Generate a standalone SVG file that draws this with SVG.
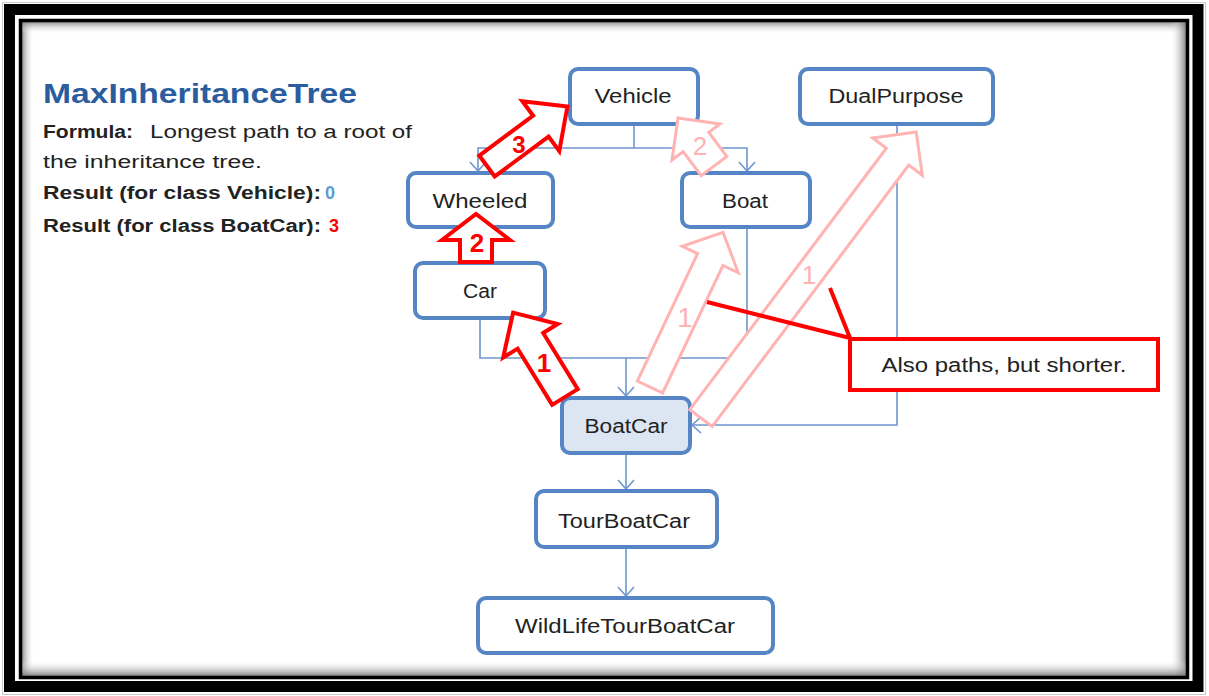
<svg xmlns="http://www.w3.org/2000/svg" width="1209" height="696" viewBox="0 0 1209 696">
<defs>
<style>
.node rect{fill:#fff;stroke:#5585C4;stroke-width:4}
.node text{font-family:"Liberation Sans",Arial,sans-serif;font-size:20px;fill:#222;text-anchor:middle}
.conn path{fill:none;stroke:#6F97CE;stroke-width:1.6}
.ra{fill:#fff;stroke:#FF0000;stroke-width:4;stroke-linejoin:miter}
.pa{fill:#fff;stroke:#FFB3B3;stroke-width:3}
.rn{font-family:"Liberation Sans",Arial,sans-serif;font-weight:bold;fill:#FF0000;text-anchor:middle}
.pn{font-family:"Liberation Sans",Arial,sans-serif;fill:#FFB3B3;text-anchor:middle}
.lt{font-family:"Liberation Sans",Arial,sans-serif;font-size:18px;fill:#222}
.b{font-weight:bold}
</style>
<marker id="v" markerWidth="12" markerHeight="18" refX="10" refY="9" orient="auto" markerUnits="userSpaceOnUse">
<path d="M1,1 L10,9 L1,17" fill="none" stroke="#6F97CE" stroke-width="1.6"/>
</marker>
<linearGradient id="gl" x1="0" y1="0" x2="1" y2="0"><stop offset="0" stop-color="#777" stop-opacity="0.8"/><stop offset="1" stop-color="#fff" stop-opacity="0"/></linearGradient>
<linearGradient id="gt" x1="0" y1="0" x2="0" y2="1"><stop offset="0" stop-color="#777" stop-opacity="0.8"/><stop offset="1" stop-color="#fff" stop-opacity="0"/></linearGradient>
<linearGradient id="gr" x1="1" y1="0" x2="0" y2="0"><stop offset="0" stop-color="#666" stop-opacity="0.9"/><stop offset="1" stop-color="#fff" stop-opacity="0"/></linearGradient>
<linearGradient id="gb" x1="0" y1="1" x2="0" y2="0"><stop offset="0" stop-color="#666" stop-opacity="0.9"/><stop offset="1" stop-color="#fff" stop-opacity="0"/></linearGradient>
</defs>
<rect x="0" y="0" width="1209" height="696" fill="#fff"/>
<g id="frame">
<rect x="2.5" y="2.5" width="1203" height="692" fill="none" stroke="#c8c8c8" stroke-width="1"/>
<rect x="9.5" y="9.5" width="1188.5" height="677" fill="none" stroke="#000" stroke-width="11"/>
<rect x="22" y="22" width="12" height="655" fill="url(#gl)"/>
<rect x="22" y="22" width="1165" height="12" fill="url(#gt)"/>
<rect x="1170" y="22" width="17" height="655" fill="url(#gr)"/>
<rect x="22" y="660" width="1165" height="17" fill="url(#gb)"/>
<rect x="20.5" y="20.5" width="1167" height="657" fill="none" stroke="#000" stroke-width="3.5"/>
</g>
<g id="legend">
<text x="43" y="103" font-family="Liberation Sans,Arial,sans-serif" font-size="28" font-weight="bold" fill="#2B5D9E" textLength="314" lengthAdjust="spacingAndGlyphs">MaxInheritanceTree</text>
<text class="lt b" x="43" y="138" textLength="90" lengthAdjust="spacingAndGlyphs">Formula:</text>
<text class="lt" x="150" y="138" textLength="262" lengthAdjust="spacingAndGlyphs">Longest path to a root of</text>
<text class="lt" x="43" y="168" textLength="219" lengthAdjust="spacingAndGlyphs">the inheritance tree.</text>
<text class="lt b" x="43" y="199" textLength="278" lengthAdjust="spacingAndGlyphs">Result  (for class Vehicle):</text>
<text class="lt b" x="325" y="199" fill="#5B9BD5" style="fill:#5B9BD5">0</text>
<text class="lt b" x="43" y="232" textLength="278" lengthAdjust="spacingAndGlyphs">Result  (for class BoatCar):</text>
<text class="lt b" x="329" y="232" style="fill:#FF0000">3</text>
</g>
<g id="connectors" class="conn">
<path d="M634,125 V148"/>
<path d="M634,148 H478 V171" marker-end="url(#v)"/>
<path d="M634,148 H747 V171" marker-end="url(#v)"/>
<path d="M480,318 V358 H626 V396" marker-end="url(#v)"/>
<path d="M747,227 V358 H626"/>
<path d="M897,125 V425 H692" marker-end="url(#v)"/>
<path d="M626,453 V489" marker-end="url(#v)"/>
<path d="M626,548 V596" marker-end="url(#v)"/>
</g>
<g id="Vehicle" class="node"><rect x="570" y="69" width="128" height="55" rx="8"/><text x="633" y="103" textLength="77" lengthAdjust="spacingAndGlyphs">Vehicle</text></g>
<g id="DualPurpose" class="node"><rect x="800" y="69" width="193" height="55" rx="8"/><text x="896" y="103" textLength="135" lengthAdjust="spacingAndGlyphs">DualPurpose</text></g>
<g id="Wheeled" class="node"><rect x="408" y="173" width="145" height="54" rx="8"/><text x="480" y="208" textLength="95" lengthAdjust="spacingAndGlyphs">Wheeled</text></g>
<g id="Boat" class="node"><rect x="682" y="173" width="128" height="54" rx="8"/><text x="745" y="208" textLength="46" lengthAdjust="spacingAndGlyphs">Boat</text></g>
<g id="Car" class="node"><rect x="415" y="263" width="130" height="55" rx="8"/><text x="480" y="298" textLength="34" lengthAdjust="spacingAndGlyphs">Car</text></g>
<g id="BoatCar" class="node"><rect x="562" y="398" width="128" height="55" rx="8" style="fill:#DCE6F2"/><text x="626" y="433" textLength="83" lengthAdjust="spacingAndGlyphs">BoatCar</text></g>
<g id="TourBoatCar" class="node"><rect x="536" y="491" width="181" height="56" rx="8"/><text x="624" y="528" textLength="132" lengthAdjust="spacingAndGlyphs">TourBoatCar</text></g>
<g id="WildLifeTourBoatCar" class="node"><rect x="478" y="598" width="295" height="55" rx="8"/><text x="625" y="633" textLength="220" lengthAdjust="spacingAndGlyphs">WildLifeTourBoatCar</text></g>
<g id="path-arrows">
<path class="pa" transform="translate(714,166) rotate(-126.9)" d="M0,-16 H30 V-30 L60,0 L30,30 V16 H0 Z"/>
<path class="pa" transform="translate(650,387) rotate(-64.7)" d="M0,-14 H141 V-31 L171,0 L141,31 V14 H0 Z"/>
<path class="pa" transform="translate(701,418) rotate(-53.05)" d="M0,-14 H327 V-31 L358,0 L327,31 V14 H0 Z"/>
<text class="pn" x="700" y="155" font-size="26">2</text>
<text class="pn" x="685" y="327" font-size="28">1</text>
<text class="pn" x="809" y="284" font-size="26">1</text>
<path class="ra" transform="translate(487,166) rotate(-36.5)" d="M0,-13 H67 V-31 L100,0 L67,31 V13 H0 Z"/>
<path class="ra" transform="translate(476,262) rotate(-90)" d="M0,-16 H22 V-34 L48,0 L22,34 V16 H0 Z"/>
<path class="ra" transform="translate(565,397) rotate(-121.6)" d="M0,-15 H66 V-32 L99,0 L66,32 V15 H0 Z"/>
<text class="rn" x="519" y="153" font-size="24">3</text>
<text class="rn" x="477" y="252" font-size="26">2</text>
<text class="rn" x="544" y="372" font-size="26">1</text>
</g>
<g id="callout">
<path d="M707,302 L850,338 M830,288 L850,338" fill="none" stroke="#FF0000" stroke-width="4"/>
<rect x="850" y="339" width="308" height="51" fill="#fff" stroke="#FF0000" stroke-width="4"/>
<text x="1004" y="372" font-family="Liberation Sans,Arial,sans-serif" font-size="20" fill="#222" text-anchor="middle" textLength="245" lengthAdjust="spacingAndGlyphs">Also paths, but shorter.</text>
</g>
</svg>
